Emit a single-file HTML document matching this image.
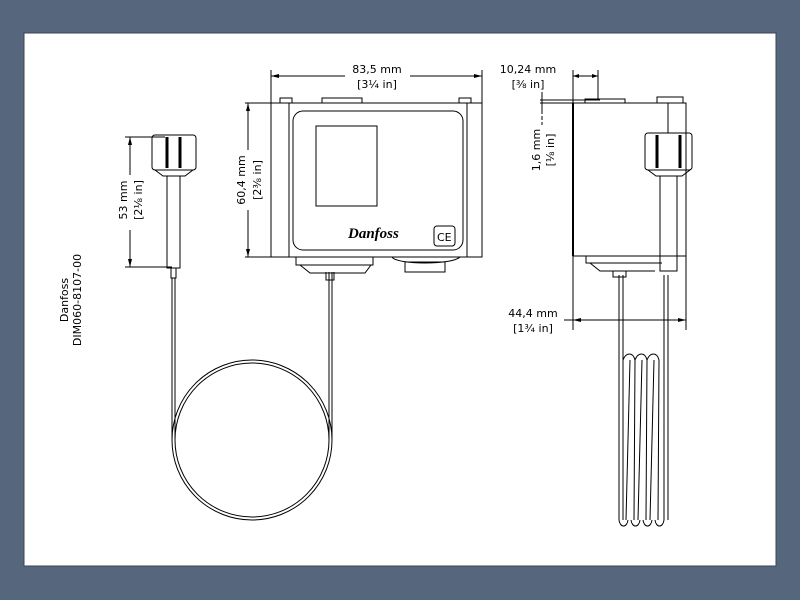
<!DOCTYPE html>
<html><head><meta charset="utf-8"><style>
html,body{margin:0;padding:0;background:#56677d;}
svg{display:block}
text{font-family:"DejaVu Sans","Liberation Sans",sans-serif;font-size:11px;fill:#000}
</style></head><body>
<svg width="800" height="600" viewBox="0 0 800 600" xmlns="http://www.w3.org/2000/svg">
<rect x="0" y="0" width="800" height="600" fill="#56677d"/>
<rect x="24" y="33" width="752" height="533" fill="#fff" stroke="#3b4656" stroke-width="1"/>
<g fill="none" stroke="#000" stroke-width="1">
<!-- front view -->
<line x1="271" y1="70" x2="271" y2="103"/><line x1="482" y1="70" x2="482" y2="103"/>
<line x1="271" y1="76" x2="345" y2="76"/><line x1="410" y1="76" x2="482" y2="76"/>
<line x1="245" y1="103" x2="271" y2="103"/><line x1="245" y1="257" x2="271" y2="257"/>
<line x1="248" y1="103" x2="248" y2="150"/><line x1="248" y1="210" x2="248" y2="257"/>
<rect x="271" y="103" width="211" height="154"/>
<line x1="289" y1="103" x2="289" y2="257"/><line x1="467" y1="103" x2="467" y2="257"/>
<rect x="293" y="111" width="170" height="139" rx="10"/>
<rect x="316" y="126" width="61" height="80"/>
<rect x="434" y="226" width="21" height="20" rx="3"/>
<path d="M280 103v-5h12v5M459 103v-5h12v5M322 103v-5h40v5"/>
<path d="M296 257v8h77v-8M300 265l10 8h55l6-8M392 257c5 8 60 8 68 0M405 262h40v10h-40z"/>
<path d="M326 272v8h8v-8"/>
<!-- left bulb -->
<line x1="125" y1="137" x2="165" y2="137"/><line x1="125" y1="267" x2="172" y2="267"/>
<line x1="130" y1="137" x2="130" y2="175"/><line x1="130" y1="230" x2="130" y2="267"/>
<rect x="152" y="135" width="44" height="35" rx="3"/>
<line x1="167" y1="137" x2="167" y2="168" stroke-width="3"/><line x1="180" y1="137" x2="180" y2="168" stroke-width="3"/>
<path d="M155 170l8 6h22l8-6"/>
<rect x="167" y="176" width="13" height="92"/>
<path d="M171 268v10h5v-10"/>
<line x1="172" y1="278" x2="172" y2="440"/><line x1="175" y1="278" x2="175" y2="440"/>
<line x1="329" y1="272" x2="329" y2="440"/><line x1="332" y1="272" x2="332" y2="440"/>
<circle cx="252" cy="440" r="80"/><circle cx="252" cy="440" r="77"/>
<!-- side view -->
<line x1="573" y1="70" x2="573" y2="330"/><line x1="598" y1="70" x2="598" y2="100"/>
<line x1="573" y1="76" x2="598" y2="76"/>
<line x1="540" y1="100" x2="600" y2="100"/><line x1="540" y1="103" x2="686" y2="103"/>
<line x1="542" y1="92" x2="542" y2="110"/><line x1="542" y1="110" x2="542" y2="125" stroke-dasharray="4 2"/>
<rect x="573" y="103" width="113" height="153"/>
<line x1="573" y1="103" x2="573" y2="256" stroke-width="2"/>
<path d="M585 103v-4h40v4M657 103v-6h26v6"/>
<line x1="668" y1="103" x2="668" y2="133"/><line x1="686" y1="103" x2="686" y2="330"/>
<rect x="645" y="133" width="47" height="37" rx="3"/>
<line x1="657" y1="135" x2="657" y2="168" stroke-width="3"/><line x1="680" y1="135" x2="680" y2="168" stroke-width="3"/>
<path d="M648 170l8 6h26l8-6"/>
<rect x="660" y="176" width="17" height="95"/>
<path d="M586 256v7h76M590 263l10 8h55M613 271v6h13v-6"/>
<line x1="564" y1="320" x2="686" y2="320"/>
<line x1="619" y1="275" x2="619" y2="520"/><line x1="623" y1="275" x2="623" y2="520"/>
<line x1="664" y1="275" x2="664" y2="520"/><line x1="668" y1="275" x2="668" y2="520"/>
<path d="M623 360c3-8 10-8 12 0l-1 160M630 360l-4 160M635 360c3-8 10-8 12 0l-1 160M642 360l-4 160M647 360c3-8 10-8 12 0l-1 160M654 360l-4 160"/>
<path d="M619 520c1 8 8 8 9 0M631 520c1 8 8 8 9 0M643 520c1 8 8 8 9 0M655 520c1 8 8 8 9 0"/>
</g>
<g fill="#000">
<path d="M271 76l8-2v4zM482 76l-8-2v4zM248 103l-2 8h4zM248 257l-2-8h4zM130 137l-2 8h4zM130 267l-2-8h4zM573 320l8-2v4zM686 320l-8-2v4zM573 76l6-2v4zM598 76l-6-2v4z"/>
</g>
<text x="377" y="73" text-anchor="middle">83,5 mm</text>
<text x="377" y="88" text-anchor="middle">[3¼ in]</text>
<text transform="translate(245,180) rotate(-90)" text-anchor="middle">60,4 mm</text>
<text transform="translate(261,180) rotate(-90)" text-anchor="middle">[2⅜ in]</text>
<text transform="translate(127,200) rotate(-90)" text-anchor="middle">53 mm</text>
<text transform="translate(142,200) rotate(-90)" text-anchor="middle">[2⅛ in]</text>
<text transform="translate(68,300) rotate(-90)" text-anchor="middle">Danfoss</text>
<text transform="translate(81,300) rotate(-90)" text-anchor="middle">DIM060-8107-00</text>
<text x="528" y="73" text-anchor="middle">10,24 mm</text>
<text x="528" y="88" text-anchor="middle">[⅜ in]</text>
<text transform="translate(540,150) rotate(-90)" text-anchor="middle">1,6 mm</text>
<text transform="translate(554,150) rotate(-90)" text-anchor="middle">[⅛ in]</text>
<text x="533" y="317" text-anchor="middle">44,4 mm</text>
<text x="533" y="332" text-anchor="middle">[1¾ in]</text>
<text x="348" y="238" style="font-family:'Liberation Serif',serif;font-style:italic;font-weight:bold;font-size:15px">Danfoss</text>
<text x="437" y="241" style="font-size:11px">CE</text>
</svg>
</body></html>
